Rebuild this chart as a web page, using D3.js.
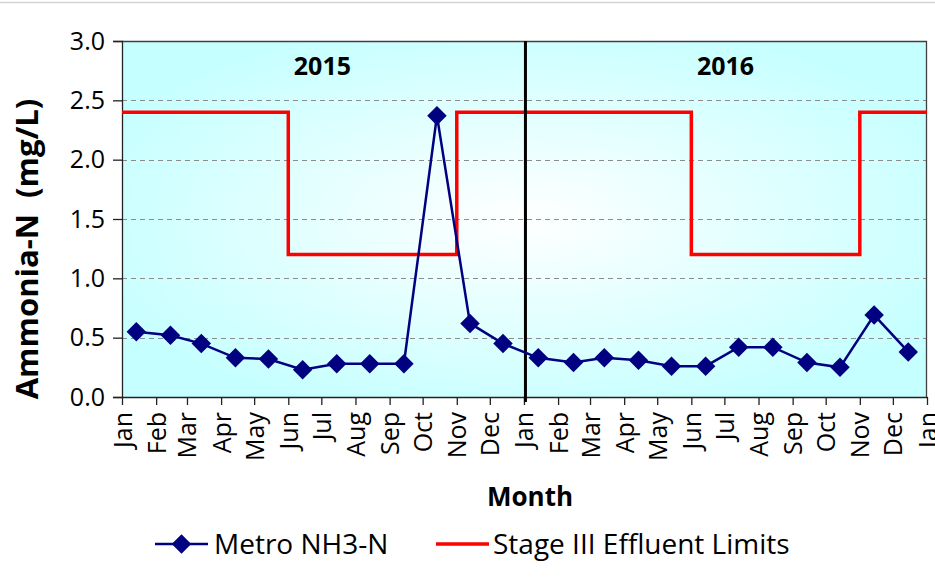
<!DOCTYPE html>
<html><head><meta charset="utf-8">
<script src="https://cdn.jsdelivr.net/npm/d3@7"></script>
<style>body{margin:0;background:#fff}svg{display:block}text{font-family:"Open Sans","Noto Sans",sans-serif;fill:#000}</style>
</head><body><svg id="c" width="935" height="581"></svg>
<script>
// ---- data ----
const sampleDates = ["2015-01-14","2015-02-14","2015-03-14","2015-04-14","2015-05-14","2015-06-14","2015-07-15","2015-08-14","2015-09-14","2015-10-14","2015-11-13","2015-12-13",
  "2016-01-14","2016-02-15","2016-03-14","2016-04-14","2016-05-14","2016-06-14","2016-07-14","2016-08-14","2016-09-14","2016-10-14","2016-11-14","2016-12-15"];
const metroNH3N = [0.55,0.52,0.45,0.33,0.32,0.23,0.28,0.28,0.28,2.37,0.62,0.45,
  0.33,0.29,0.33,0.31,0.26,0.26,0.42,0.42,0.29,0.25,0.69,0.38];
const limitDates = ["2015-01-01","2015-06-01","2015-11-01","2016-06-01","2016-11-01","2017-01-01"];
const limitValues = [2.4,1.2,2.4,1.2,2.4,2.4];
const yTicks = [0,0.5,1.0,1.5,2.0,2.5,3.0];
const yearLabels = ["2015","2016"];
const yearCenters = ["2015-07-02","2016-07-02"];
const yearDivider = "2016-01-01";
const xDomain = ["2015-01-01","2017-01-01"];

// ---- layout ----
const svg = d3.select("#c");
const L = 122, R = 927, T = 41, B = 397;
const parse = d3.utcParse("%Y-%m-%d");
const x = d3.scaleUtc().domain(xDomain.map(parse)).range([L, R]);
const y = d3.scaleLinear().domain([0, 3]).range([B, T]);

svg.append("line").attr("x1",0).attr("x2",935).attr("y1",2.5).attr("y2",2.5).attr("stroke","#d4d4d4").attr("stroke-width",1.5);

const defs = svg.append("defs");
const rg = defs.append("radialGradient").attr("id","bg").attr("cx","50%").attr("cy","50%").attr("r","58%");
rg.append("stop").attr("offset","0%").attr("stop-color","#ffffff");
rg.append("stop").attr("offset","100%").attr("stop-color","#c6ffff");
svg.append("rect").attr("x",L).attr("y",T).attr("width",R-L).attr("height",B-T).attr("fill","url(#bg)");

// grid
svg.append("g").selectAll("line").data(yTicks.filter(v=>v>0&&v<3)).join("line")
  .attr("x1",L).attr("x2",R).attr("y1",d=>Math.round(y(d))+0.5).attr("y2",d=>Math.round(y(d))+0.5)
  .attr("stroke","#8c8c8c").attr("stroke-width",1.2).attr("stroke-dasharray","5,4");

// border top/right
svg.append("path").attr("d",`M${L},${T+0.5}H${R-0.5}V${B}`).attr("fill","none").attr("stroke","#404040").attr("stroke-width",1.3);

// axes
const yAxis = d3.axisLeft(y).tickValues(yTicks).tickFormat(d3.format(".1f")).tickSize(9).tickPadding(8);
const gy = svg.append("g").attr("transform",`translate(${L},0)`).call(yAxis);
gy.selectAll("text").attr("font-size",25).attr("fill","#111");
gy.selectAll("line,path").attr("stroke","#222").attr("stroke-width",1.3);

const xAxis = d3.axisBottom(x).ticks(d3.utcMonth.every(1)).tickFormat(d3.utcFormat("%b")).tickSize(8).tickSizeOuter(0);
const gx = svg.append("g").attr("transform",`translate(0,${B})`).call(xAxis);
gx.selectAll("line,path").attr("stroke","#222").attr("stroke-width",1.3);
gx.selectAll("text").attr("font-size",25).attr("fill","#111")
  .attr("text-anchor","end").attr("transform","rotate(-90)")
  .attr("x",-15).attr("y",0).attr("dy","0.36em");

// year labels
svg.append("g").selectAll("text").data(yearLabels).join("text")
  .attr("x",(d,i)=>x(parse(yearCenters[i]))).attr("y",75).attr("text-anchor","middle")
  .attr("font-size",25).attr("font-weight","bold").text(d=>d);

// limit step line
const limitPts = limitDates.map((d,i)=>({d:parse(d),v:limitValues[i]}));
svg.append("path").datum(limitPts)
  .attr("d", d3.line().x(p=>x(p.d)).y(p=>y(p.v)).curve(d3.curveStepAfter))
  .attr("fill","none").attr("stroke","#ff0000").attr("stroke-width",3.5);

// divider
svg.append("line").attr("x1",x(parse(yearDivider))+1.5).attr("x2",x(parse(yearDivider))+1.5)
  .attr("y1",T).attr("y2",B+5).attr("stroke","#000").attr("stroke-width",3);

// metro series
const pts = sampleDates.map((d,i)=>({d:parse(d),v:metroNH3N[i]}));
svg.append("path").datum(pts)
  .attr("d", d3.line().x(p=>x(p.d)).y(p=>y(p.v)))
  .attr("fill","none").attr("stroke","#000080").attr("stroke-width",2.5);
const diamond = d3.symbol().type(d3.symbolSquare).size(190);
svg.append("g").selectAll("path").data(pts).join("path")
  .attr("d",diamond).attr("transform",p=>`translate(${x(p.d)},${y(p.v)}) rotate(45)`)
  .attr("fill","#000080");

// axis titles
svg.append("text").attr("transform","translate(38,249) rotate(-90)").attr("text-anchor","middle")
  .attr("font-size",31).attr("font-weight","bold").style("white-space","pre").text("Ammonia-N  (mg/L)");
svg.append("text").attr("x",530).attr("y",506).attr("text-anchor","middle")
  .attr("font-size",26).attr("font-weight","bold").text("Month");

// legend
const lg = svg.append("g");
lg.append("line").attr("x1",155).attr("x2",208).attr("y1",544).attr("y2",544).attr("stroke","#000080").attr("stroke-width",2.5);
lg.append("path").attr("d",diamond).attr("transform","translate(181.5,544) rotate(45)").attr("fill","#000080");
lg.append("text").attr("x",214).attr("y",554).attr("font-size",28).text("Metro NH3-N");
lg.append("line").attr("x1",436).attr("x2",489).attr("y1",544).attr("y2",544).attr("stroke","#ff0000").attr("stroke-width",3.5);
lg.append("text").attr("x",493).attr("y",554).attr("font-size",28).text("Stage III Effluent Limits");
</script></body></html>
